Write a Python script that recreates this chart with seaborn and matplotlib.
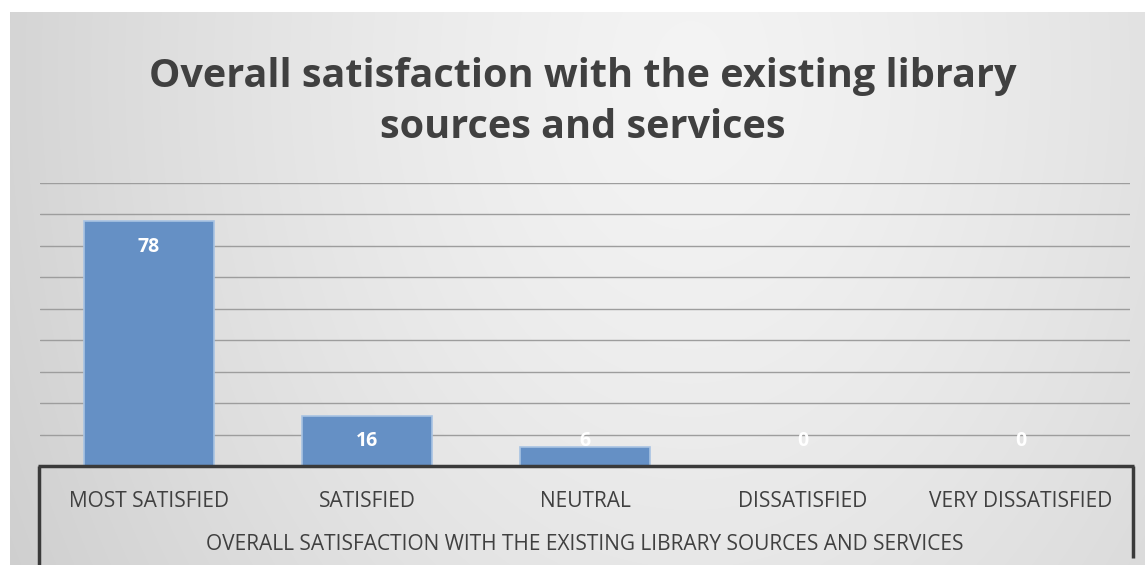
import numpy as np
import matplotlib
matplotlib.use("Agg")
import matplotlib.pyplot as plt
import seaborn as sns
import pandas as pd
from matplotlib.lines import Line2D

categories = ["MOST SATISFIED", "SATISFIED", "NEUTRAL", "DISSATISFIED", "VERY DISSATISFIED"]
values = [78, 16, 6, 0, 0]
title = "Overall satisfaction with the existing library\nsources and services"
axis_title = "OVERALL SATISFACTION WITH THE EXISTING LIBRARY SOURCES AND SERVICES"

sns.set_theme(style="white")
plt.rcParams['font.family'] = ['Open Sans', 'DejaVu Sans']

W, H = 1145, 565
fig = plt.figure(figsize=(W / 100, H / 100), dpi=100)

# background gradient panel
bg = fig.add_axes([10 / W, 0, (W - 10) / W, (H - 12) / H], zorder=-10)
yy, xx = np.mgrid[0:553, 0:1135]
d = np.sqrt(((xx - 680) / 800.0) ** 2 + ((yy - 60) / 1100.0) ** 2)
shade = 0.955 - 0.15 * np.clip(d, 0, 1.2) ** 1.4
bg.imshow(np.dstack([shade] * 3), aspect='auto', extent=[0, 1, 0, 1], origin='upper')
bg.set_axis_off()

x0, x1 = 40, 1130
ybase, ytop = 466, 183
ax = fig.add_axes([x0 / W, (H - ybase) / H, (x1 - x0) / W, (ybase - ytop) / H])
ax.patch.set_alpha(0)

df = pd.DataFrame({"cat": categories, "val": values})
sns.barplot(data=df, x="cat", y="val", color="#6590c5", saturation=1, width=0.6,
            edgecolor="#a8c3e3", linewidth=1.2, ax=ax, zorder=3)

ax.set_ylim(0, 90)
ax.set_yticks(np.arange(10, 91, 10))
ax.set_yticklabels([])
ax.yaxis.grid(True, color="#9d9d9d", linewidth=1.0, zorder=0)
ax.tick_params(axis='both', length=0)
for s in ax.spines.values():
    s.set_visible(False)
ax.set_xlabel("")
ax.set_ylabel("")
ax.set_xticks(range(len(categories)))
ax.set_xticklabels(categories, fontsize=15, color="#404040")
ax.tick_params(axis='x', pad=18)

for i, v in enumerate(values):
    ax.text(i, max(v - 8.5, 8.0), str(v), ha='center', va='center', color='white',
            fontsize=14, fontweight='bold', zorder=5)

# axis table box
def fl(xa, ya, xb, yb, lw=2.5):
    fig.add_artist(Line2D([xa / W, xb / W], [1 - ya / H, 1 - yb / H],
                          color="#3a3a3a", linewidth=lw, solid_capstyle='butt'))

fl(38, ybase, 1134, ybase)
fl(39, ybase, 39, 565)
fl(1133, ybase, 1133, 558)

fig.text(585 / W, 1 - 545 / H, axis_title, ha='center', va='center', fontsize=15, color="#404040")
fig.text(583 / W, 1 - 102 / H, title, ha='center', va='center', fontsize=28.5, fontweight='bold',
         color="#404040", linespacing=1.42)

fig.savefig("out.png", dpi=100)
